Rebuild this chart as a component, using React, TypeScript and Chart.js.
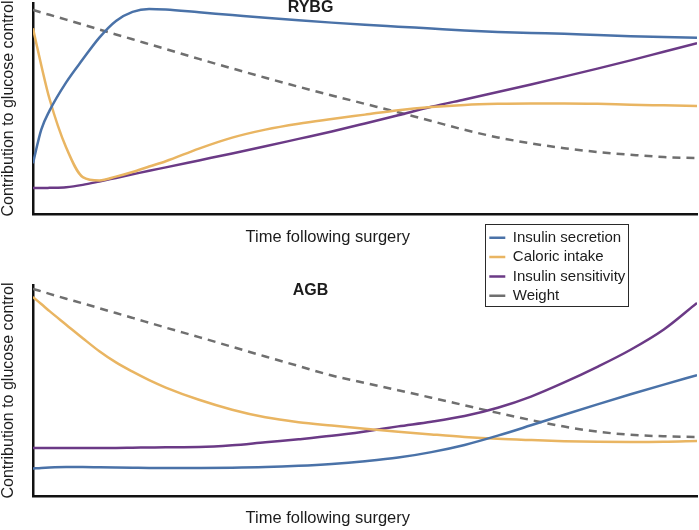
import React, { useEffect, useRef } from 'react';
import { Chart, registerables } from 'chart.js';

Chart.register(...registerables);

// ---- data ----
const TIME = [0, 1.25, 2.5, 5, 7.5, 10, 12.5, 15, 17.5, 20, 25, 30, 35, 40, 45, 50, 55, 60, 65, 70, 75, 80, 85, 90, 95, 100];

const SERIES_LABELS = ['Insulin secretion', 'Caloric intake', 'Insulin sensitivity', 'Weight'];

const RYBG_INSULIN_SECRETION = [24, 40, 49, 62.4, 73.3, 83.6, 91.5, 95.8, 97.2, 96.9, 95.6, 94.3, 93, 91.8, 90.7, 89.7, 88.8, 87.9, 87, 86.3, 85.8, 85.4, 84.8, 84.3, 83.9, 83.5];
const RYBG_CALORIC_INTAKE = [88, 70.5, 54.5, 31.5, 17.5, 15.9, 17.7, 19.9, 22.5, 25, 31, 36.2, 40, 42.8, 45, 47.1, 49.2, 50.7, 51.7, 52.2, 52.4, 52.4, 52.2, 51.8, 51.5, 51.2];
const RYBG_INSULIN_SENSITIVITY = [12.3, 12.3, 12.4, 12.7, 13.8, 15.4, 17.1, 18.8, 20.5, 22.1, 25.4, 28.7, 32.1, 35.6, 39.1, 42.9, 46.8, 50.8, 54.3, 57.8, 61.4, 65.1, 68.9, 72.8, 76.9, 81];
const RYBG_WEIGHT = [96.7, 95.5, 94.4, 92.1, 89.8, 87.4, 85.1, 82.8, 80.5, 78.2, 73.5, 69.0, 64.6, 60.3, 56.2, 52.2, 48.2, 44.1, 39.9, 36.3, 33.5, 31.2, 29.4, 28.1, 27.0, 26.5];

const AGB_INSULIN_SECRETION = [13.0, 13.3, 13.5, 13.7, 13.7, 13.6, 13.5, 13.4, 13.3, 13.3, 13.3, 13.4, 13.7, 14.3, 15.2, 16.5, 18.2, 20.8, 24.2, 28.6, 33.5, 38.5, 43.4, 48.2, 52.8, 57.3];
const AGB_CALORIC_INTAKE = [94.3, 91.0, 87.6, 81.2, 74.8, 68.6, 63.3, 58.9, 54.9, 51.4, 45.6, 40.9, 37.3, 35.0, 33.4, 31.9, 30.5, 29.2, 28.0, 27.1, 26.5, 26.0, 25.7, 25.6, 25.7, 26.1];
const AGB_INSULIN_SENSITIVITY = [22.7, 22.7, 22.7, 22.7, 22.7, 22.8, 22.8, 22.9, 23.0, 23.1, 23.2, 24.0, 25.5, 26.9, 28.5, 30.6, 33.0, 35.2, 37.9, 41.8, 47.1, 53.8, 61.2, 69.3, 78.9, 91.5];
const AGB_WEIGHT = [98.1, 97.0, 95.8, 93.5, 91.3, 89.0, 86.7, 84.4, 82.1, 79.8, 75.3, 70.7, 66.1, 61.6, 57.1, 53.6, 50.1, 46.6, 43.0, 39.4, 36.0, 32.9, 30.5, 29.0, 28.3, 28.0];

const PANEL_TITLES = ['RYBG', 'AGB'];
const X_TITLE = 'Time following surgery';
const Y_TITLE = 'Contribution to glucose control';

// ---- styles ----
const FONT_FAMILY = '"Liberation Sans", Arial, Helvetica, sans-serif';
const TEXT_COLOR = '#1c1c1c';
const AXIS_COLOR = '#111111';
const COLORS = ['#4a72a8', '#e9b562', '#6b3a86', '#6f6f6f'];
const DASHES: number[][] = [[], [], [], [8, 6]];
const LEGEND_DASHES: number[][] = [[], [], [], [7, 5]];

function makeDatasets(values: number[][]) {
  return values.map((vals, i) => ({
    label: SERIES_LABELS[i],
    data: TIME.map((t, j) => ({ x: t, y: vals[j] })),
    borderColor: COLORS[i],
    backgroundColor: COLORS[i],
    borderWidth: 2.5,
    borderDash: DASHES[i],
    pointRadius: 0,
    pointHoverRadius: 0,
    cubicInterpolationMode: 'monotone' as const,
    fill: false,
  }));
}

const panelText = {
  id: 'panelText',
  afterDraw(chart: any, _args: any, opts: any) {
    const { ctx, chartArea } = chart;
    const w = chartArea.right - chartArea.left;
    ctx.save();
    ctx.fillStyle = TEXT_COLOR;
    ctx.textAlign = 'center';
    ctx.textBaseline = 'middle';
    ctx.font = `bold 16px ${FONT_FAMILY}`;
    ctx.fillText(opts.label, chartArea.left + opts.labelX * w, chartArea.top + opts.labelDy);
    ctx.font = `16.5px ${FONT_FAMILY}`;
    ctx.fillText(opts.xTitle, chartArea.left + opts.xTitleX * w, chartArea.bottom + opts.xTitleDy);
    ctx.restore();
  },
};

type PanelProps = {
  values: number[][];
  label: string;
  labelDy: number;
  xTitleDy: number;
  padTop: number;
  padBottom: number;
  top: number;
  height: number;
};

function Panel({ values, label, labelDy, xTitleDy, padTop, padBottom, top, height }: PanelProps) {
  const ref = useRef<HTMLCanvasElement>(null);
  useEffect(() => {
    const chart = new Chart(ref.current as HTMLCanvasElement, {
      type: 'line',
      data: { datasets: makeDatasets(values) as any },
      options: {
        responsive: false,
        animation: false,
        devicePixelRatio: 1,
        layout: { padding: { left: 0, right: 2, top: padTop, bottom: padBottom } },
        plugins: {
          legend: { display: false },
          tooltip: { enabled: false },
          panelText: { label, labelX: 0.418, labelDy, xTitle: X_TITLE, xTitleX: 0.444, xTitleDy },
        } as any,
        scales: {
          x: {
            type: 'linear',
            min: 0,
            max: 100,
            ticks: { display: false },
            grid: { display: false, drawTicks: false },
            border: { display: true, color: AXIS_COLOR, width: 2.5 },
          },
          y: {
            type: 'linear',
            min: 0,
            max: 100,
            ticks: { display: false },
            grid: { display: false, drawTicks: false },
            border: { display: true, color: AXIS_COLOR, width: 2.5 },
            title: {
              display: true,
              text: Y_TITLE,
              color: TEXT_COLOR,
              font: { family: FONT_FAMILY, size: 16, lineHeight: 1.06 },
              padding: { top: 0, bottom: 16 },
            },
          },
        },
      },
      plugins: [panelText],
    });
    return () => chart.destroy();
  }, []);
  return (
    <canvas
      ref={ref}
      width={699}
      height={height}
      style={{ position: 'absolute', left: 0, top, display: 'block' }}
    />
  );
}

function LegendBox() {
  const ref = useRef<HTMLCanvasElement>(null);
  useEffect(() => {
    const chart = new Chart(ref.current as HTMLCanvasElement, {
      type: 'line',
      data: {
        datasets: SERIES_LABELS.map((label, i) => ({
          label,
          data: [],
          borderColor: COLORS[i],
          backgroundColor: COLORS[i],
          borderWidth: 2.5,
          borderDash: LEGEND_DASHES[i],
        })),
      },
      options: {
        responsive: false,
        animation: false,
        devicePixelRatio: 1,
        layout: { padding: 0 },
        scales: { x: { display: false }, y: { display: false } },
        plugins: {
          tooltip: { enabled: false },
          legend: {
            display: true,
            position: 'top',
            align: 'start',
            labels: {
              color: TEXT_COLOR,
              font: { family: FONT_FAMILY, size: 15 },
              usePointStyle: true,
              pointStyle: 'line',
              pointStyleWidth: 16,
              padding: 4.3,
            },
          },
        },
      },
    });
    return () => chart.destroy();
  }, []);
  return (
    <div
      style={{
        position: 'absolute',
        left: 485,
        top: 224,
        width: 144,
        height: 83,
        boxSizing: 'border-box',
        border: '1.5px solid #2a2a2a',
        background: 'transparent',
      }}
    >
      <canvas ref={ref} width={141} height={220} style={{ position: 'absolute', left: -1.3, top: 0.6, pointerEvents: 'none' }} />
    </div>
  );
}

export default function App() {
  useEffect(() => {
    document.body.style.margin = '0';
  }, []);
  return (
    <div style={{ position: 'absolute', left: 0, top: 0, width: 699, height: 530, background: '#ffffff', overflow: 'hidden' }}>
      <Panel
        values={[RYBG_INSULIN_SECRETION, RYBG_CALORIC_INTAKE, RYBG_INSULIN_SENSITIVITY, RYBG_WEIGHT]}
        label={PANEL_TITLES[0]}
        labelDy={4.5}
        xTitleDy={23}
        padTop={3}
        padBottom={51}
        top={0}
        height={265}
      />
      <Panel
        values={[AGB_INSULIN_SECRETION, AGB_CALORIC_INTAKE, AGB_INSULIN_SENSITIVITY, AGB_WEIGHT]}
        label={PANEL_TITLES[1]}
        labelDy={5.5}
        xTitleDy={22.7}
        padTop={20}
        padBottom={34}
        top={265}
        height={265}
      />
      <LegendBox />
    </div>
  );
}
